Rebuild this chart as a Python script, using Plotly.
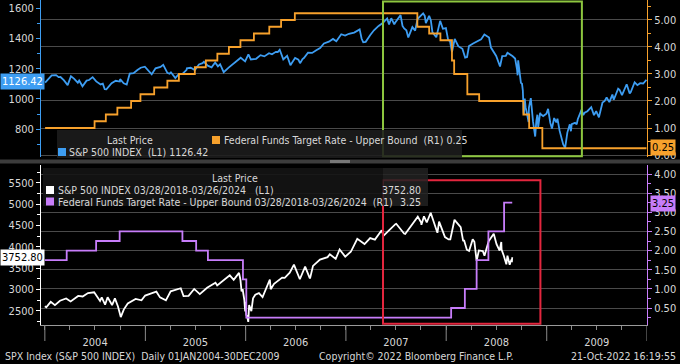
import pandas as pd
import plotly.graph_objects as go

# ---------------- data ----------------
spx_dates = [
 "2004-01-02","2004-01-15","2004-01-26","2004-02-11","2004-02-27","2004-03-10","2004-03-24","2004-04-05","2004-04-16","2004-04-30",
 "2004-05-12","2004-05-17","2004-06-01","2004-06-23","2004-07-06","2004-07-22","2004-08-06","2004-08-12","2004-08-31","2004-09-15",
 "2004-09-30","2004-10-14","2004-10-25","2004-11-05","2004-11-19","2004-12-03","2004-12-15","2004-12-30",
 "2005-01-14","2005-01-24","2005-02-07","2005-02-25","2005-03-07","2005-03-22","2005-04-04","2005-04-20","2005-05-03","2005-05-16",
 "2005-05-31","2005-06-15","2005-06-30","2005-07-15","2005-08-02","2005-08-16","2005-08-30","2005-09-12","2005-09-30","2005-10-13",
 "2005-10-31","2005-11-15","2005-11-30","2005-12-14","2005-12-30",
 "2006-01-11","2006-01-20","2006-02-08","2006-02-24","2006-03-10","2006-03-27","2006-04-07","2006-04-21","2006-05-05","2006-05-18",
 "2006-06-01","2006-06-13","2006-06-30","2006-07-12","2006-07-18","2006-08-01","2006-08-16","2006-08-31","2006-09-15","2006-09-29",
 "2006-10-13","2006-10-31","2006-11-15","2006-11-27","2006-12-15","2006-12-29",
 "2007-01-12","2007-01-31","2007-02-20","2007-02-27","2007-03-14","2007-03-30","2007-04-13","2007-04-30","2007-05-15","2007-05-31",
 "2007-06-07","2007-06-15","2007-06-29","2007-07-19","2007-08-01","2007-08-16","2007-08-31","2007-09-10","2007-09-19","2007-10-09",
 "2007-10-19","2007-10-31","2007-11-12","2007-11-26","2007-12-10","2007-12-20","2007-12-31",
 "2008-01-08","2008-01-22","2008-02-01","2008-02-14","2008-02-29","2008-03-10","2008-03-24","2008-04-08","2008-04-30","2008-05-19",
 "2008-06-05","2008-06-20","2008-07-01","2008-07-15","2008-07-23","2008-08-11","2008-08-29","2008-09-15","2008-09-19","2008-09-29",
 "2008-10-03","2008-10-10","2008-10-13","2008-10-27","2008-11-04","2008-11-20","2008-11-28","2008-12-08","2008-12-19","2008-12-31",
 "2009-01-06","2009-01-20","2009-01-28","2009-02-09","2009-02-23","2009-03-09","2009-03-26","2009-04-14","2009-05-08","2009-05-14",
 "2009-06-12","2009-06-30","2009-07-10","2009-07-31","2009-08-17","2009-08-28","2009-09-02","2009-09-23","2009-10-02","2009-10-19",
 "2009-10-30","2009-11-17","2009-11-27","2009-12-07","2009-12-18","2009-12-30",
 # additional readings
 "2004-02-20","2004-05-05","2004-06-10","2004-07-30","2004-10-01","2005-03-30","2005-06-01","2005-07-28","2005-09-22","2006-04-28",
 "2006-06-21","2006-07-27","2007-03-05","2007-06-26","2007-07-26","2007-08-09","2007-10-15","2007-11-06","2008-01-15","2008-03-17",
 "2008-05-07","2008-06-12","2008-08-05","2008-09-08","2008-09-17","2008-10-06","2008-10-09","2008-10-16","2008-10-22","2008-10-28",
 "2008-11-12","2008-11-24","2008-12-01","2008-12-10","2009-01-09","2009-01-14","2009-02-05","2009-02-17","2009-03-02","2009-03-17",
 "2009-03-30","2009-04-02","2009-04-20","2009-04-24","2009-05-19","2009-05-29","2009-06-22","2009-07-23","2009-08-07","2009-09-18",
 "2009-11-03"]
spx_values = [
 1108,1132,1155,1157,1145,1124,1091,1150,1134,1107,
 1097,1084,1121,1144,1116,1096,1064,1063,1104,1120,
 1115,1103,1095,1167,1170,1191,1206,1213,
 1184,1163,1202,1211,1225,1172,1176,1138,1166,1166,
 1192,1206,1191,1228,1245,1220,1209,1241,1229,1177,
 1207,1231,1249,1272,1248,
 1294,1261,1265,1289,1281,1302,1295,1311,1325,1261,
 1285,1223,1270,1259,1236,1270,1305,1304,1322,1336,
 1366,1378,1396,1381,1427,1418,
 1430,1438,1459,1399,1377,1421,1453,1482,1501,1531,
 1491,1533,1503,1553,1465,1406,1474,1451,1529,1565,
 1501,1549,1439,1407,1515,1463,1468,
 1390,1310,1396,1348,1331,1273,1349,1366,1386,1426,
 1405,1318,1284,1214,1283,1305,1283,1193,1255,1106,
 1100,899,1003,848,1006,752,896,909,887,903,
 935,805,874,870,743,677,833,842,930,893,
 946,919,879,987,979,1029,995,1061,1025,1097,
 1036,1110,1091,1104,1102,1126.42,
 1144,1122,1125,1101,1131,1166,1202,1236,1215,1310,
 1245,1263,1374,1492,1482,1453,1548,1520,1380,1277,
 1393,1339,1284,1267,1156,1057,910,946,896,941,
 852,852,816,899,890,842,845,789,700,778,
 787,834,832,866,909,919,893,976,1010,1068,
 1045]

fed_dates = ["2004-01-02","2004-06-30","2004-08-10","2004-09-21","2004-11-10","2004-12-14","2005-02-02","2005-03-22",
             "2005-05-03","2005-06-30","2005-08-09","2005-09-20","2005-11-01","2005-12-13","2006-01-31","2006-03-28",
             "2006-05-10","2006-06-29","2007-09-18","2007-10-31","2007-12-11","2008-01-22","2008-01-30","2008-03-18",
             "2008-04-30","2008-10-08","2008-10-29","2008-12-16","2009-12-30"]
fed_values = [1.00,1.25,1.50,1.75,2.00,2.25,2.50,2.75,3.00,3.25,3.50,3.75,4.00,4.25,4.50,4.75,5.00,5.25,
              4.75,4.50,4.25,3.50,3.00,2.25,2.00,1.50,1.00,0.25,0.25]

spx2_dates = [
 "2018-03-28","2018-04-02","2018-04-18","2018-05-03","2018-05-21","2018-06-12","2018-06-28","2018-07-25","2018-08-10","2018-08-29",
 "2018-09-20","2018-10-11","2018-10-17","2018-10-29","2018-11-07","2018-11-23","2018-12-03","2018-12-14","2018-12-24","2019-01-04",
 "2019-01-18","2019-02-15","2019-03-08","2019-03-21","2019-04-12","2019-04-30","2019-05-13","2019-06-03","2019-06-20","2019-07-26",
 "2019-08-05","2019-08-23","2019-09-12","2019-10-02","2019-10-28","2019-11-27","2019-12-03","2019-12-31","2020-01-17","2020-01-31",
 "2020-02-19","2020-02-28","2020-03-03","2020-03-12","2020-03-13","2020-03-16","2020-03-23","2020-03-26","2020-04-03","2020-04-17",
 "2020-04-30","2020-05-13","2020-06-08","2020-06-11","2020-06-23","2020-07-22","2020-08-18","2020-09-02","2020-09-23","2020-10-12",
 "2020-10-30","2020-11-09","2020-12-04","2020-12-31","2021-01-29","2021-02-12","2021-03-04","2021-04-16","2021-05-12","2021-06-01",
 "2021-07-12","2021-07-19","2021-08-30","2021-09-02","2021-10-04","2021-11-18","2021-12-01","2021-12-10","2021-12-20","2022-01-03",
 "2022-01-27","2022-02-02","2022-02-23","2022-03-08","2022-03-29","2022-04-20","2022-05-02","2022-05-20","2022-06-02","2022-06-16",
 "2022-07-08","2022-07-29","2022-08-16","2022-09-06","2022-09-12","2022-09-30","2022-10-04","2022-10-12","2022-10-17","2022-10-20",
 "2022-10-21",
 # additional readings
 "2019-05-31","2019-07-15","2019-08-14","2020-02-24","2020-03-09","2020-03-18","2020-04-09","2020-05-27","2020-07-31","2020-10-28",
 "2021-01-08","2021-03-24","2021-06-18","2021-09-30","2021-11-30","2022-03-14","2022-04-04","2022-04-29","2022-05-12","2022-06-08",
 "2022-06-24","2022-07-14","2022-08-26","2022-09-13","2022-09-21"]
spx2_values = [
 2605,2582,2708,2630,2733,2787,2716,2846,2833,2914,
 2931,2729,2810,2641,2814,2633,2790,2600,2351,2532,
 2671,2776,2743,2855,2907,2946,2812,2744,2954,3026,
 2844,2847,3010,2888,3039,3154,3093,3231,3330,3226,
 3386,2954,3003,2481,2711,2386,2237,2630,2489,2875,
 2912,2820,3232,3002,3131,3276,3390,3580,3237,3534,
 3270,3550,3699,3756,3714,3934,3768,4185,4063,4202,
 4384,4258,4529,4537,4300,4704,4513,4712,4568,4796,
 4326,4589,4225,4171,4632,4459,4155,3901,4177,3667,
 3899,4130,4305,3908,4110,3586,3791,3577,3677,3665,
 3752.80,
 2752,3014,2840,3226,2747,2398,2790,3036,3271,3271,
 3824,3881,4166,4308,4567,4173,4583,4132,3930,4116,
 3912,3790,4058,3932,3790]

fed2_dates = ["2018-03-28","2018-06-14","2018-09-27","2018-12-20","2019-08-01","2019-09-19","2019-10-31","2020-03-04",
              "2020-03-16","2022-03-17","2022-05-05","2022-06-16","2022-07-28","2022-09-22","2022-10-21"]
fed2_values = [1.75,2.00,2.25,2.50,2.25,2.00,1.75,1.25,0.25,0.50,1.00,1.75,2.50,3.25,3.25]

year_labels = ["2004", "2005", "2006", "2007", "2008", "2009"]

# overlay period 03/28/2018 is aligned to the start of the 2004 window
OVL_START = pd.Timestamp("2018-03-28")
BASE_START = pd.Timestamp("2004-01-01")
OVL_SCALE = 1.02


def series(dates, values):
    s = pd.Series(values, index=pd.to_datetime(dates)).sort_index()
    return s


def overlay_x(idx):
    return BASE_START + (pd.Series(idx) - OVL_START) * OVL_SCALE


spx = series(spx_dates, spx_values)
spx2 = series(spx2_dates, spx2_values)
fed2 = series(fed2_dates, fed2_values)

# ---------------- style ----------------
FONT = "Liberation Sans Narrow, DejaVu Sans Condensed, Arial Narrow, sans-serif"
BLUE = "#3d9df2"
ORANGE = "#f7a12c"
PURPLE = "#c77dfa"
WHITE = "#ffffff"
GRID = "#4a4a4a"
TXT = "#d8d8d8"
XR = ["2003-12-18", "2010-01-01"]

W, H = 680, 364
ML, MR, MT, MB = 41, 33, 0, 39
PW, PH = W - ML - MR, H - MT - MB


def px(x):
    return (x - ML) / PW


def py(y):
    return (H - MB - y) / PH


fig = go.Figure()
fig.add_trace(go.Scatter(x=spx.index, y=spx.values, mode="lines", line=dict(color=BLUE, width=1.8),
                         xaxis="x", yaxis="y", showlegend=False))
fig.add_trace(go.Scatter(x=fed_dates, y=fed_values, mode="lines", line=dict(color=ORANGE, width=1.8, shape="hv"),
                         xaxis="x", yaxis="y2", showlegend=False))
fig.add_trace(go.Scatter(x=overlay_x(spx2.index), y=spx2.values, mode="lines", line=dict(color=WHITE, width=1.8),
                         xaxis="x2", yaxis="y3", showlegend=False))
fig.add_trace(go.Scatter(x=overlay_x(fed2.index), y=fed2.values, mode="lines",
                         line=dict(color=PURPLE, width=1.8, shape="hv"),
                         xaxis="x2", yaxis="y4", showlegend=False))

top_dom = [py(157), 1.0]
bot_dom = [0.0, py(165)]
tickfont = dict(family=FONT, size=11, color=TXT)
year_starts = [pd.Timestamp(y + "-01-01") for y in year_labels] + [pd.Timestamp("2010-01-01")]
year_mids = [pd.Timestamp(y + "-07-02") for y in year_labels]
quarters = list(pd.date_range("2004-01-01", "2009-12-31", freq="QS"))

common_y = dict(automargin=False, zeroline=False, ticks="outside", ticklen=4, tickfont=tickfont)

fig.update_layout(
    template="none",
    width=W, height=H, margin=dict(l=ML, r=MR, t=MT, b=MB, autoexpand=False),
    paper_bgcolor="#000000", plot_bgcolor="#000000",
    font=dict(family=FONT, size=11, color=TXT),
    xaxis=dict(domain=[0, 1], anchor="y", range=XR, type="date", showticklabels=False, showgrid=False,
               ticks="", showline=False, zeroline=False, automargin=False),
    yaxis=dict(domain=top_dom, range=[617, 1653], tickvals=[800, 1000, 1200, 1400, 1600], showgrid=False,
               tickcolor=BLUE, showline=True, linecolor=BLUE, linewidth=1,
               minor=dict(tickvals=[700, 900, 1100, 1300, 1500], ticks="outside", ticklen=3, tickcolor=BLUE),
               **common_y),
    yaxis2=dict(domain=top_dom, overlaying="y", side="right", anchor="x", range=[-0.074, 5.74],
                tickvals=[0, 1, 2, 3, 4, 5], ticktext=["0.00", "1.00", "2.00", "3.00", "4.00", "5.00"],
                showgrid=True, gridcolor=GRID, gridwidth=1, tickcolor=ORANGE,
                showline=True, linecolor=ORANGE, linewidth=1,
                minor=dict(tickvals=[0.5, 1.5, 2.5, 3.5, 4.5, 5.5], ticks="outside", ticklen=3, tickcolor=ORANGE),
                **common_y),
    xaxis2=dict(domain=[0, 1], anchor="y3", range=XR, type="date", tickvals=year_mids, ticktext=year_labels,
                showgrid=False, ticks="outside", ticklen=7, tickcolor="rgba(0,0,0,0)",
                showline=True, linecolor="#9a9a9a", tickfont=tickfont, zeroline=False, automargin=False,
                minor=dict(tickvals=quarters, ticks="outside", ticklen=4, tickcolor="#8a8a8a")),
    yaxis3=dict(domain=bot_dom, anchor="x2", range=[2165, 5915],
                tickvals=[2500, 3000, 3500, 4000, 4500, 5000, 5500], showgrid=False,
                tickcolor=WHITE, showline=True, linecolor=WHITE, linewidth=1,
                minor=dict(tickvals=[2250, 2750, 3250, 3750, 4250, 4750, 5250, 5750], ticks="outside",
                           ticklen=3, tickcolor=WHITE),
                **common_y),
    yaxis4=dict(domain=bot_dom, overlaying="y3", side="right", anchor="x2", range=[0.056, 4.235],
                tickvals=[0.5, 1, 1.5, 2, 2.5, 3, 3.5, 4],
                ticktext=["0.50", "1.00", "1.50", "2.00", "2.50", "3.00", "3.50", "4.00"],
                showgrid=True, gridcolor=GRID, gridwidth=1, tickcolor=PURPLE,
                showline=True, linecolor=PURPLE, linewidth=1,
                minor=dict(tickvals=[0.25, 0.75, 1.25, 1.75, 2.25, 2.75, 3.25, 3.75], ticks="outside",
                           ticklen=3, tickcolor=PURPLE),
                **common_y),
)

shapes = []
# year separators on the time axis
for ys in year_starts:
    shapes.append(dict(type="line", xref="x2", yref="paper", x0=ys, x1=ys, y0=py(325), y1=py(341),
                       line=dict(color="#8a8a8a", width=1), layer="above"))
# highlight boxes
shapes.append(dict(type="rect", xref="x", yref="y domain", x0="2007-05-16", x1="2009-05-09", y0=0.005, y1=0.99,
                   line=dict(color="#8dc63f", width=2), fillcolor="rgba(0,0,0,0)", layer="above"))
shapes.append(dict(type="rect", xref="x2", yref="y3 domain", x0="2007-05-16", x1="2008-12-09", y0=0.008, y1=0.905,
                   line=dict(color="#e3263e", width=2), fillcolor="rgba(0,0,0,0)", layer="above"))
# panel separator
shapes.append(dict(type="rect", xref="paper", yref="paper", x0=px(0), x1=px(680), y0=py(163.5), y1=py(159.5),
                   line=dict(width=0), fillcolor="#3c3c3c", layer="above"))
shapes.append(dict(type="rect", xref="paper", yref="paper", x0=px(330), x1=px(350), y0=py(163), y1=py(160),
                   line=dict(width=0), fillcolor="#777777", layer="above"))
# legend panels
shapes.append(dict(type="rect", xref="paper", yref="paper", x0=px(57), x1=px(462), y0=py(158), y1=py(130),
                   line=dict(width=0), fillcolor="rgba(28,28,28,0.88)", layer="above"))
shapes.append(dict(type="rect", xref="paper", yref="paper", x0=px(43), x1=px(383), y0=py(206), y1=py(168),
                   line=dict(width=0), fillcolor="rgba(20,20,20,0.9)", layer="above"))
shapes.append(dict(type="rect", xref="paper", yref="paper", x0=px(383), x1=px(428), y0=py(206), y1=py(168),
                   line=dict(width=0), fillcolor="rgba(34,34,34,0.85)", layer="above"))
# legend swatches
for (x0, y0, col) in [(62, 152, BLUE), (216, 140, ORANGE), (50, 190, WHITE), (50, 201.5, PURPLE)]:
    shapes.append(dict(type="rect", xref="paper", yref="paper", x0=px(x0 - 4), x1=px(x0 + 4),
                       y0=py(y0 + 4), y1=py(y0 - 4), line=dict(width=0), fillcolor=col, layer="above"))
fig.update_layout(shapes=shapes)

ann = []


def text(x, y, s, anchor="left", size=11, color=TXT, **kw):
    ann.append(dict(xref="paper", yref="paper", x=px(x), y=py(y), text=s, showarrow=False, xanchor=anchor,
                    yanchor="middle", font=dict(family=FONT, size=size, color=color), **kw))


# top legend
text(130, 140, "Last Price", anchor="center", size=10.5)
text(222, 140, "Federal Funds Target Rate - Upper Bound  (R1) 0.25", size=10.5)
text(67, 152, "S&P 500 INDEX  (L1) 1126.42", size=10.5)
# bottom legend
text(235, 178, "Last Price", anchor="center", size=10.5)
text(56, 190, "S&P 500 INDEX 03/28/2018-03/26/2024   (L1)", size=10.5)
text(56, 201.5, "Federal Funds Target Rate - Upper Bound 03/28/2018-03/26/2024  (R1)", size=10.5)
text(423, 190, "3752.80", anchor="right", size=10.5)
text(423, 201.5, "3.25", anchor="right", size=10.5)
# axis value tags
text(0, 81, "1126.42", anchor="left", color="#ffffff", bgcolor=BLUE, borderpad=1)
text(0, 257, "3752.80", anchor="left", color="#000000", bgcolor="#ffffff", borderpad=1)
text(650, 147, "0.25", anchor="left", color="#000000", bgcolor=ORANGE, borderpad=1)
text(650, 203, "3.25", anchor="left", color="#000000", bgcolor=PURPLE, borderpad=1)
# footer
text(3, 356, "SPX Index (S&P 500 INDEX)  Daily 01JAN2004-30DEC2009", size=10.5)
text(416, 356, "Copyright\u00a9 2022 Bloomberg Finance L.P.", anchor="center", size=10.5)
text(678, 356, "21-Oct-2022 16:19:55", anchor="right", size=10.5)
fig.update_layout(annotations=ann)

fig.write_html("out.html", config={"displayModeBar": False},
               post_script="document.body.style.margin='0px';document.body.style.overflow='hidden';")
